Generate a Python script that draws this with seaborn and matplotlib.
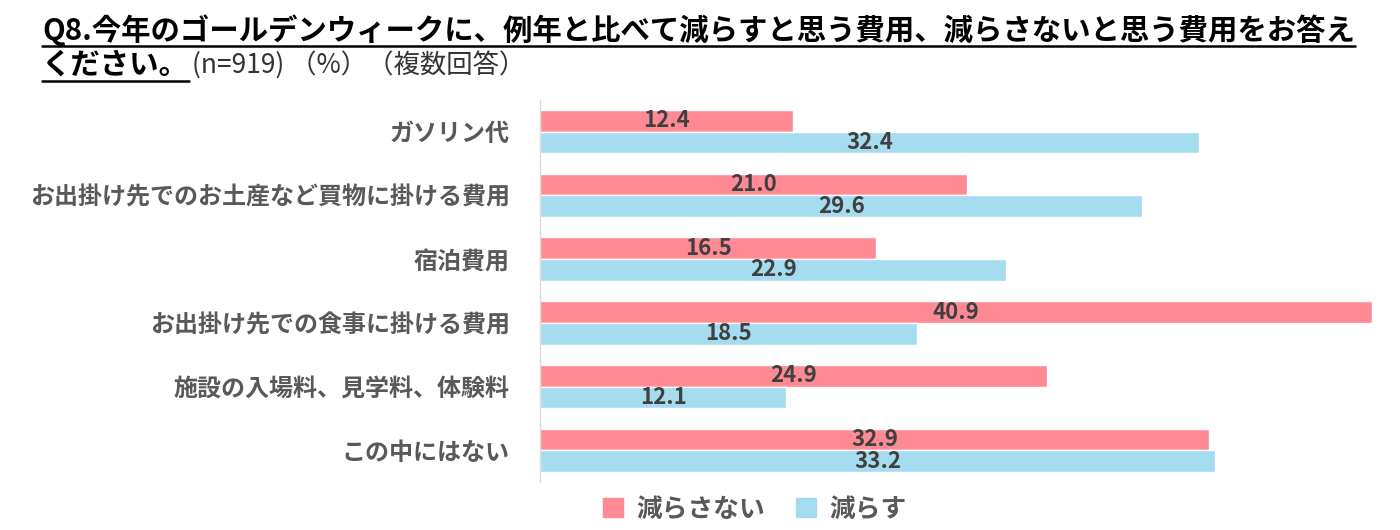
import matplotlib
matplotlib.use("Agg")
import matplotlib.pyplot as plt
import seaborn as sns
import pandas as pd
from matplotlib.lines import Line2D

categories = [
    "ガソリン代",
    "お出掛け先でのお土産など買物に掛ける費用",
    "宿泊費用",
    "お出掛け先での食事に掛ける費用",
    "施設の入場料、見学料、体験料",
    "この中にはない",
]
not_reduce = [12.4, 21.0, 16.5, 40.9, 24.9, 32.9]
reduce = [32.4, 29.6, 22.9, 18.5, 12.1, 33.2]
series_names = ["減らさない", "減らす"]
colors = ["#FF8A94", "#A5DCF0"]

df = pd.DataFrame({
    "category": categories * 2,
    "value": not_reduce + reduce,
    "series": [series_names[0]] * len(categories) + [series_names[1]] * len(categories),
})

sns.set_theme(style="white")
plt.rcParams["font.family"] = ["Noto Sans CJK JP", "DejaVu Sans"]

fig = plt.figure(figsize=(14, 5.3), dpi=100)
ax = fig.add_axes([0.386, 0.09, 0.594, 0.722])

sns.barplot(data=df, y="category", x="value", hue="series", order=categories,
            hue_order=series_names, palette=colors, orient="h", width=0.68,
            saturation=1, ax=ax, legend=False)

for cont in ax.containers:
    ax.bar_label(cont, fmt="%.1f", label_type="center", fontsize=16,
                 fontweight="bold", color="#404040")

ax.set_xlim(0, 40.9)
ax.set_xlabel("")
ax.set_ylabel("")
ax.set_xticks([])
ax.tick_params(axis="y", length=0, pad=22)
for lab in ax.get_yticklabels():
    lab.set_fontsize(17.3)
    lab.set_fontweight("bold")
    lab.set_color("#595959")
for s in ["top", "right", "bottom"]:
    ax.spines[s].set_visible(False)
ax.spines["left"].set_color("#D9D9D9")
ax.spines["left"].set_linewidth(1)

# legend
handles = [plt.Rectangle((0, 0), 1, 1, color=c) for c in colors]
leg = fig.legend(handles, series_names, loc="center", bbox_to_anchor=(0.539, 0.04),
                 ncol=2, frameon=False, handlelength=0.8, handleheight=0.8,
                 columnspacing=1.2, handletextpad=0.5,
                 prop={"size": 18.5, "weight": "bold"})
for t in leg.get_texts():
    t.set_color("#595959")

# title with underline
t1 = fig.text(42 / 1400, 1 - 30 / 530,
              "Q8.今年のゴールデンウィークに、例年と比べて減らすと思う費用、減らさないと思う費用をお答え",
              fontsize=21.2, fontweight="bold", color="#000000", va="center", ha="left")
t2 = fig.text(42 / 1400, 1 - 65 / 530, "ください。", fontsize=21.2, fontweight="bold",
              color="#000000", va="center", ha="left")
r = fig.canvas.get_renderer()
b2 = t2.get_window_extent(r)
t3 = fig.text(b2.x1 / 1400 + 0.002, 1 - 65 / 530, "(n=919) （%）（複数回答）",
              fontsize=19, color="#333333", va="center", ha="left")
for t, y in [(t1, 46), (t2, 81)]:
    b = t.get_window_extent(r)
    fig.add_artist(Line2D([b.x0 / 1400, b.x1 / 1400], [1 - y / 530] * 2,
                          color="#000000", linewidth=1.8))

fig.savefig("out.png", dpi=100)
